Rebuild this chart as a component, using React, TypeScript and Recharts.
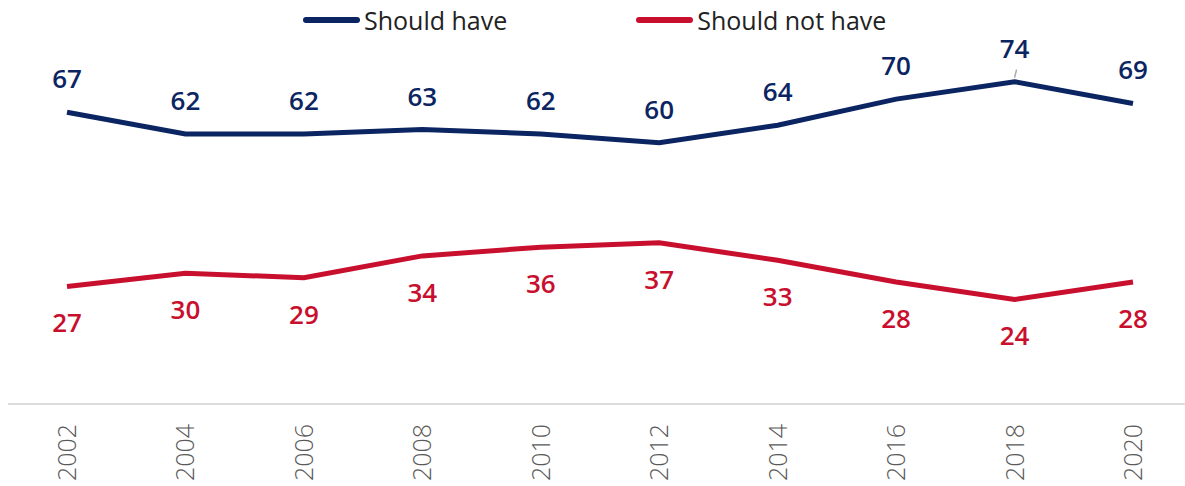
import { LineChart, Line, XAxis, YAxis, LabelList } from "recharts"

const years = ["2002", "2004", "2006", "2008", "2010", "2012", "2014", "2016", "2018", "2020"]
const shouldHave = [67, 62, 62, 63, 62, 60, 64, 70, 74, 69]
const shouldNotHave = [27, 30, 29, 34, 36, 37, 33, 28, 24, 28]

const NAVY = "#0b2562"
const RED = "#c8102e"
const FONT = "'Open Sans', sans-serif"

const data = years.map((year, i) => ({
  year,
  have: shouldHave[i],
  notHave: shouldNotHave[i],
}))

function YearTick({ x, y, payload }: any) {
  return (
    <text
      x={0}
      y={0}
      transform={`translate(${x + 9},${y + 12}) rotate(-90)`}
      textAnchor="end"
      fill="#5a5a5a"
      fontSize={25}
      fontFamily={FONT}
      fontWeight={300}
    >
      {payload.value}
    </text>
  )
}

function HaveLabel({ x, y, value, index }: any) {
  return (
    <g>
      {index === 8 && <line x1={x} y1={y - 4} x2={x + 2} y2={y - 12} stroke="#aaa" strokeWidth={1.5} />}
      <text x={x} y={y - 24} textAnchor="middle" fill={NAVY} fontSize={26} fontFamily={FONT} fontWeight={600}>
        {value}
      </text>
    </g>
  )
}

function NotHaveLabel({ x, y, value }: any) {
  return (
    <text x={x} y={y + 46} textAnchor="middle" fill={RED} fontSize={26} fontFamily={FONT} fontWeight={600}>
      {value}
    </text>
  )
}

function LegendItem({ color, label }: { color: string; label: string }) {
  return (
    <div style={{ display: "flex", alignItems: "center" }}>
      <div style={{ width: 57, height: 6, borderRadius: 3, background: color, marginRight: 4 }} />
      <span style={{ fontSize: 25, color: "#222", fontFamily: FONT, lineHeight: "30px" }}>{label}</span>
    </div>
  )
}

export default function App() {
  return (
    <div style={{ position: "absolute", left: 0, top: 0, width: 1185, height: 486, background: "#fff" }}>
      <div
        style={{
          position: "absolute",
          top: 5,
          left: 303,
          display: "flex",
          gap: 129,
          zIndex: 2,
        }}
      >
        <LegendItem color={NAVY} label="Should have" />
        <LegendItem color={RED} label="Should not have" />
      </div>
      <LineChart width={1185} height={486} data={data} margin={{ top: 12, right: 0, bottom: 0, left: 8 }}>
        <XAxis
          dataKey="year"
          stroke="#ddd"
          strokeWidth={2}
          tickLine={false}
          height={82}
          padding={{ left: 59, right: 52 }}
          tick={<YearTick />}
          interval={0}
        />
        <YAxis hide domain={[0, 90]} />
        <Line
          dataKey="have"
          stroke={NAVY}
          strokeWidth={5}
          dot={false}
          isAnimationActive={false}
        >
          <LabelList dataKey="have" content={<HaveLabel />} />
        </Line>
        <Line
          dataKey="notHave"
          stroke={RED}
          strokeWidth={5}
          dot={false}
          isAnimationActive={false}
        >
          <LabelList dataKey="notHave" content={<NotHaveLabel />} />
        </Line>
      </LineChart>
    </div>
  )
}
